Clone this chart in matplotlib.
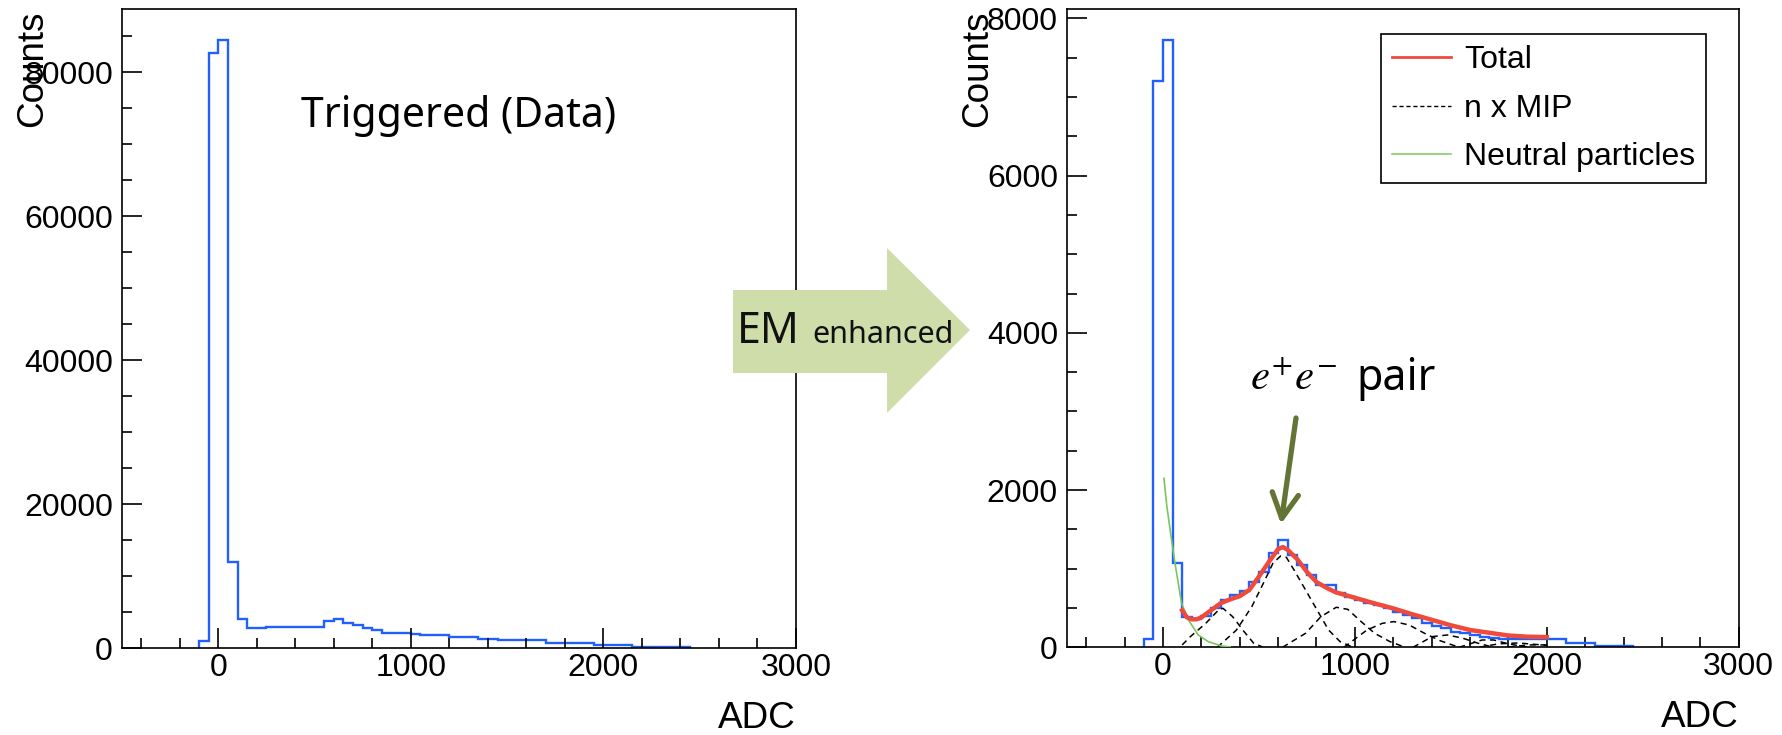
import numpy as np
import matplotlib.pyplot as plt
from matplotlib.ticker import MultipleLocator, FormatStrFormatter
from matplotlib.patches import Polygon, FancyArrowPatch, ArrowStyle
from matplotlib.lines import Line2D

plt.rcParams['font.family'] = ['Liberation Sans', 'DejaVu Sans']
plt.rcParams['mathtext.fontset'] = 'stix'

# ---- data (bins of 50 ADC starting at -100) ----
bin_lo, bin_w = -100, 50

trig_counts = [970, 82600, 84400, 12000, 3990, 2730, 2730, 2960, 2960, 2960,
               2960, 2960, 2960, 3750, 4030, 3430, 3190, 2730, 2500, 2130,
               2080, 2080, 1990, 1760, 1760, 1760, 1480, 1480, 1480, 1250,
               1250, 1090, 1090, 1090, 1090, 1090, 760, 760, 760, 760,
               760, 450, 450, 450, 450, 200, 200, 200, 200, 200, 200]

em_counts = [110, 7208, 7726, 1076, 390, 360, 400, 496, 600, 665,
             716, 835, 962, 1196, 1365, 1175, 1047, 920, 793, 793,
             687, 645, 602, 568, 539, 496, 454, 411, 369, 305,
             271, 242, 199, 178, 157, 136, 115, 102, 100, 100,
             100, 100, 100, 100, 51, 51, 51, 17, 17, 17, 17]

# fit curves (ADC, counts)
total_x = [100, 125, 150, 175, 200, 250, 300, 350, 400, 450, 500, 550, 600, 625,
           650, 700, 750, 800, 850, 900, 1000, 1100, 1200, 1300, 1400, 1500,
           1600, 1700, 1800, 1900, 2000]
total_y = [470, 380, 356, 356, 380, 470, 560, 610, 650, 730, 900, 1080, 1250, 1275,
           1240, 1120, 960, 830, 760, 700, 630, 560, 495, 420, 350, 280,
           220, 185, 150, 135, 130]

neutral_x = [5, 20, 40, 62, 97, 132, 184, 236, 306, 350]
neutral_y = [2150, 1800, 1450, 1080, 560, 350, 157, 72, 17, 5]

mip1_x = [100, 143, 223, 293, 313, 363, 423, 473, 523]
mip1_y = [30, 136, 305, 483, 496, 390, 199, 51, 0]
mip2_x = [283, 383, 463, 523, 573, 613, 643, 683, 743, 803, 863, 923, 983]
mip2_y = [0, 220, 517, 814, 1069, 1162, 1145, 984, 729, 475, 220, 72, 8]
mip3_x = [623, 743, 823, 903, 963, 1023, 1103, 1183, 1263]
mip3_y = [0, 178, 390, 509, 483, 348, 178, 72, 0]
mip4_x = [943, 1063, 1143, 1203, 1283, 1363, 1443, 1543]
mip4_y = [0, 220, 305, 327, 284, 178, 85, 0]
mip5_x = [1303, 1403, 1483, 1563, 1643, 1723]
mip5_y = [0, 136, 157, 115, 51, 0]
mip6_x = [1543, 1663, 1723, 1803, 1903]
mip6_y = [0, 93, 93, 42, 0]
mip7_x = [1650, 1750, 1850, 1950, 2000]
mip7_y = [0, 45, 55, 35, 25]
mip8_x = [1800, 1900, 2000]
mip8_y = [0, 30, 30]

W, H = 1782, 735
fig = plt.figure(figsize=(W / 100, H / 100), dpi=100)


def fx(x):
    return x / W


def fy(y):
    return 1 - y / H


ax1 = fig.add_axes([fx(122), fy(648), fx(796) - fx(122), fy(9) - fy(648)])
ax2 = fig.add_axes([fx(1067), fy(647.3), fx(1738.7) - fx(1067), fy(9.3) - fy(647.3)])

blue = '#2060ff'


def style(ax, ymax, ymajor, yminor):
    ax.set_xlim(-500, 3000)
    ax.set_ylim(0, ymax)
    ax.xaxis.set_major_locator(MultipleLocator(1000))
    ax.xaxis.set_minor_locator(MultipleLocator(200))
    ax.yaxis.set_major_locator(MultipleLocator(ymajor))
    ax.yaxis.set_minor_locator(MultipleLocator(yminor))
    ax.yaxis.set_major_formatter(FormatStrFormatter('%d'))
    ax.tick_params(which='both', direction='in', top=False, right=False,
                   labelsize=23, width=1.2)
    ax.tick_params(which='major', length=14.5)
    ax.tick_params(which='minor', length=7.5)
    ax.tick_params(axis='x', pad=3.5)
    ax.tick_params(axis='y', pad=6.5)
    for sp in ax.spines.values():
        sp.set_linewidth(1.2)
    ax.text(-0.133, 0.998, 'Counts', rotation=90, ha='center', va='top',
            transform=ax.transAxes, fontsize=26.6)
    ax.text(1.0, -0.125, 'ADC', ha='right', va='baseline',
            transform=ax.transAxes, fontsize=26.6)


# left: triggered data
edges1 = bin_lo + bin_w * np.arange(len(trig_counts) + 1)
ax1.stairs(trig_counts, edges1, baseline=0, color=blue, lw=1.7)
style(ax1, 88750, 20000, 5000)

# right: EM enhanced with fit
edges2 = bin_lo + bin_w * np.arange(len(em_counts) + 1)
ax2.stairs(em_counts, edges2, baseline=0, color=blue, lw=1.7, zorder=2)
for xs, ys in [(mip1_x, mip1_y), (mip2_x, mip2_y), (mip3_x, mip3_y), (mip4_x, mip4_y),
               (mip5_x, mip5_y), (mip6_x, mip6_y), (mip7_x, mip7_y), (mip8_x, mip8_y)]:
    ax2.plot(xs, ys, color='black', lw=1.1, ls=(0, (4, 3)), zorder=3)
ax2.plot(neutral_x, neutral_y, color='#79c75b', lw=1.2, zorder=3)
ax2.plot(total_x, total_y, color='#f04a3a', lw=3.2, zorder=4)
style(ax2, 8117, 2000, 500)

handles = [Line2D([], [], color='#f04a3a', lw=2.0),
           Line2D([], [], color='black', lw=1.0, ls=(0, (3, 2))),
           Line2D([], [], color='#79c75b', lw=1.1)]
leg = ax2.legend(handles, ['Total', 'n x MIP', 'Neutral particles'],
                 loc='upper left', bbox_to_anchor=(0.4675, 0.9613), borderaxespad=0,
                 fontsize=23, fancybox=False, edgecolor='black', framealpha=1,
                 handlelength=1.84, handletextpad=0.4, borderpad=0.35, labelspacing=0.58)
leg.get_frame().set_linewidth(1.2)

# annotations
fig.text(fx(301), fy(127), 'Triggered (Data)', fontsize=29.5, family='Noto Sans',
         va='baseline', ha='left')

arrow_pts = [(733, 290), (887, 290), (887, 248), (970, 330), (887, 413), (887, 373), (733, 373)]
fig.add_artist(Polygon([(fx(x), fy(y)) for x, y in arrow_pts], closed=True,
                       transform=fig.transFigure, facecolor='#cfddab',
                       edgecolor='none', zorder=5))
fig.text(fx(737), fy(343), 'EM', fontsize=31, family='Noto Sans', va='baseline',
         ha='left', color='#111111', zorder=6, weight='semibold')
fig.text(fx(812), fy(343), 'enhanced', fontsize=22, family='Noto Sans', va='baseline',
         ha='left', color='#111111', zorder=6)

fig.text(fx(1250), fy(390), r'$e^{+}e^{-}$', fontsize=31, va='baseline', ha='left')
fig.text(fx(1356), fy(390), 'pair', fontsize=31, family='Noto Sans',
         va='baseline', ha='left')
fig.add_artist(FancyArrowPatch((fx(1296), fy(418)), (fx(1281), fy(524)),
                               transform=fig.transFigure,
                               arrowstyle=ArrowStyle('->', head_length=1.8, head_width=0.95),
                               mutation_scale=10, lw=3.8, color='#627534',
                               shrinkA=0, shrinkB=0, zorder=6))

fig.savefig('out.png', dpi=100)
